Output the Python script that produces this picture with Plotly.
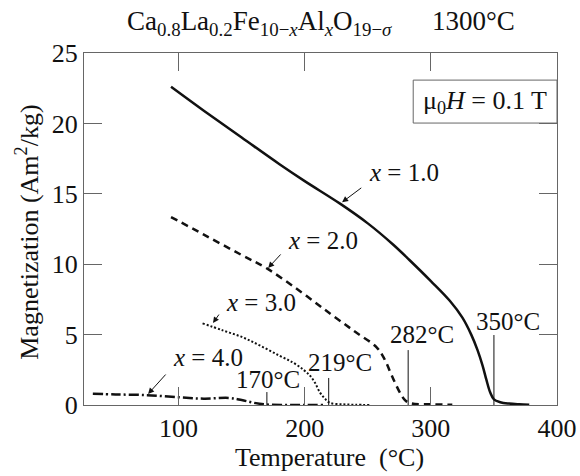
import plotly.graph_objects as go

# ---- data ----
T_x1 = [94, 120, 150, 180, 200, 228, 250, 270, 283, 300, 315, 325, 332, 337, 341, 344, 347, 350, 355, 362, 370, 378]
M_x1 = [22.6, 20.9, 19.0, 17.1, 15.9, 14.3, 12.9, 11.4, 10.3, 8.8, 7.4, 6.2, 5.0, 3.9, 2.8, 1.8, 0.9, 0.4, 0.2, 0.1, 0.05, 0.02]

T_x2 = [94, 120, 150, 170, 196, 220, 240, 257, 263, 268, 272, 276, 280, 285, 300, 317]
M_x2 = [13.35, 12.1, 10.65, 9.7, 8.1, 6.5, 5.2, 4.1, 3.3, 2.3, 1.5, 0.8, 0.3, 0.1, 0.05, 0.02]

T_x3 = [119, 135, 151, 165, 180, 191, 199, 204, 208, 212, 216, 220, 230, 240, 252]
M_x3 = [5.8, 5.3, 4.8, 4.2, 3.5, 3.0, 2.5, 2.1, 1.6, 0.9, 0.45, 0.15, 0.05, 0.02, 0.0]

T_x4 = [32, 50, 75, 100, 120, 140, 150, 160, 170, 185, 200, 215]
M_x4 = [0.8, 0.75, 0.7, 0.55, 0.45, 0.5, 0.35, 0.15, 0.03, 0.0, 0.0, 0.0]

curie_T = [170, 219, 282, 350]
curie_labels = ["170°C", "219°C", "282°C", "350°C"]

x_ticks = [100, 200, 300, 400]
y_ticks = [0, 5, 10, 15, 20, 25]

FONT = "Liberation Serif"
BLACK = "#111111"
AXC = "#666666"

fig = go.Figure()
fig.add_trace(go.Scatter(x=T_x1, y=M_x1, mode="lines", line=dict(color=BLACK, width=2.5), line_shape="spline"))
fig.add_trace(go.Scatter(x=T_x2, y=M_x2, mode="lines", line=dict(color=BLACK, width=2.5, dash="7px,5px"), line_shape="spline"))
fig.add_trace(go.Scatter(x=T_x3, y=M_x3, mode="lines", line=dict(color=BLACK, width=2, dash="2px,2px"), line_shape="spline"))
fig.add_trace(go.Scatter(x=T_x4, y=M_x4, mode="lines", line=dict(color=BLACK, width=2.5, dash="10px,3px,2px,3px"), line_shape="spline"))

ann = []
# curve labels with arrows: (tip T, tip M, tail T, tail M, label T, label M, text)
labels = [
    (229.6, 14.4, 246, 15.5, 279, 16.5, "<i>x</i> = 1.0"),
    (171, 9.73, 182, 10.8, 214.5, 11.7, "<i>x</i> = 2.0"),
    (127.3, 5.82, 132.8, 6.53, 165.4, 7.3, "<i>x</i> = 3.0"),
    (75.8, 0.78, 90.8, 2.27, 123.3, 3.34, "<i>x</i> = 4.0"),
]
for tx, ty, ax_, ay_, lx, ly, txt in labels:
    ann.append(dict(x=tx, y=ty, ax=ax_, ay=ay_, axref="x", ayref="y", xref="x", yref="y",
                    text="", showarrow=True, arrowhead=2, arrowsize=1.2, arrowwidth=1, arrowcolor=BLACK))
    ann.append(dict(x=lx, y=ly, xref="x", yref="y", text=txt, showarrow=False,
                    xanchor="center", yanchor="middle",
                    font=dict(family=FONT, size=25, color=BLACK)))

label_pos = [(171, 1.78), (228, 3.05), (293, 5.0), (361, 5.9)]
line_top = [0.92, 1.92, 3.9, 4.97]
shapes = []
for Tc, lab, (lx, ly), top in zip(curie_T, curie_labels, label_pos, line_top):
    shapes.append(dict(type="line", xref="x", yref="y", x0=Tc, x1=Tc, y0=0, y1=top,
                       line=dict(color=BLACK, width=1)))
    ann.append(dict(x=lx, y=ly, xref="x", yref="y", text=lab, showarrow=False,
                    xanchor="center", yanchor="middle",
                    font=dict(family=FONT, size=25, color=BLACK)))

# field box
shapes.append(dict(type="rect", xref="paper", yref="paper", x0=0.696, x1=1.0, y0=0.801, y1=0.923,
                   line=dict(color=AXC, width=1), fillcolor="white", layer="above"))
ann.append(dict(x=0.848, y=0.862, xref="paper", yref="paper", showarrow=False,
                xanchor="center", yanchor="middle",
                text="μ<sub>0</sub><i>H</i> = 0.1 T", font=dict(family=FONT, size=26, color=BLACK)))

# title
ann.append(dict(x=0.5, y=1.085, xref="paper", yref="paper", showarrow=False, xanchor="center", yanchor="middle",
                text="Ca<sub>0.8</sub>La<sub>0.2</sub>Fe<sub>10−<i>x</i></sub>Al<sub><i>x</i></sub>O<sub>19−<i>σ</i></sub>      1300°C",
                font=dict(family=FONT, size=27, color=BLACK)))
# axis titles
ann.append(dict(x=-0.12, y=0.49, xref="paper", yref="paper", showarrow=False, textangle=-90,
                xanchor="center", yanchor="middle",
                text="Magnetization (Am<sup>2</sup>/kg)", font=dict(family=FONT, size=26, color=BLACK)))
ann.append(dict(x=0.518, y=-0.148, xref="paper", yref="paper", showarrow=False,
                xanchor="center", yanchor="middle",
                text="Temperature  (°C)", font=dict(family=FONT, size=26, color=BLACK)))

fig.update_layout(
    width=580, height=476,
    margin=dict(l=84, r=23, t=53, b=71, autoexpand=False),
    paper_bgcolor="white", plot_bgcolor="white",
    showlegend=False,
    annotations=ann, shapes=shapes,
    font=dict(family=FONT, color=BLACK),
)
fig.update_xaxes(range=[25, 400], tickvals=x_ticks, ticks="inside", ticklen=18, tickcolor=AXC, tickwidth=1,
                 showline=True, linecolor=AXC, linewidth=1, mirror="ticks", showgrid=False, zeroline=False,
                 automargin=False, tickfont=dict(family=FONT, size=26, color=BLACK))
fig.update_yaxes(range=[0, 25], tickvals=y_ticks, ticks="inside", ticklen=18, tickcolor=AXC, tickwidth=1,
                 showline=True, linecolor=AXC, linewidth=1, mirror="ticks", showgrid=False, zeroline=False,
                 automargin=False, tickfont=dict(family=FONT, size=26, color=BLACK))

fig.write_html("out.html")
